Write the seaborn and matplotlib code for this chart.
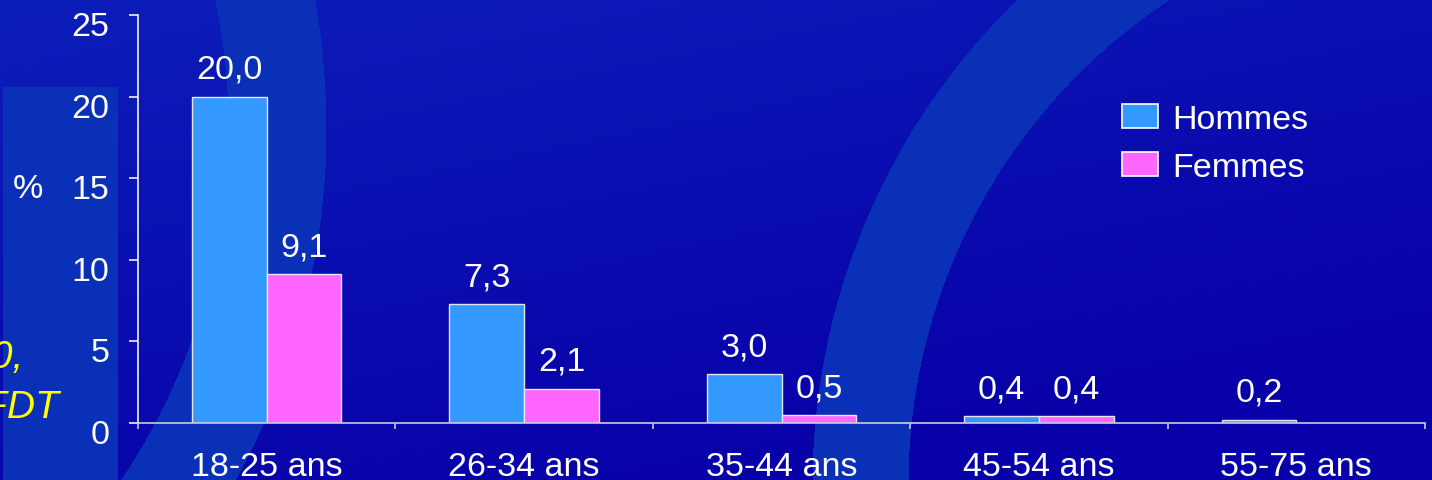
import numpy as np
import pandas as pd
import matplotlib
matplotlib.use("Agg")
import matplotlib.pyplot as plt
from matplotlib import font_manager as fm
from matplotlib.transforms import ScaledTranslation
import seaborn as sns

# Données : prévalence (%) par classe d'âge et par sexe
groupes = ["18-25 ans", "26-34 ans", "35-44 ans", "45-54 ans", "55-75 ans"]
hommes = [20.0, 7.3, 3.0, 0.4, 0.2]
femmes = [9.1, 2.1, 0.5, 0.4, np.nan]
series = ["Hommes", "Femmes"]
yticks = [0, 5, 10, 15, 20, 25]

couleurs = {"Hommes": "#3399FF", "Femmes": "#FF66FF"}

df = pd.DataFrame({
    "groupe": groupes * 2,
    "sexe": ["Hommes"] * len(groupes) + ["Femmes"] * len(groupes),
    "valeur": hommes + femmes,
})

# Police étroite si disponible
noms = {f.name for f in fm.fontManager.ttflist}
if "Liberation Sans Narrow" in noms:
    famille, taille = "Liberation Sans Narrow", 26.5
else:
    famille, taille = "Liberation Sans", 24.5
plt.rcParams["font.family"] = [famille, "DejaVu Sans"]

W, H = 1432, 481
fig = plt.figure(figsize=(W / 100, H / 100), dpi=100)

# ---- fond : dégradé bleu, deux anneaux clairs et un panneau à gauche ----
bg = fig.add_axes([0, 0, 1, 1], zorder=-1)
bg.set_axis_off()
yy, xx = np.mgrid[0:H, 0:W].astype(float)
t = np.clip(0.75 * yy / H + 0.45 * xx / W, 0, 1)
haut = np.array([12, 30, 186]) / 255
bas = np.array([8, 0, 168]) / 255
img = haut[None, None, :] * (1 - t[..., None]) + bas[None, None, :] * t[..., None]
clair = np.array([10, 48, 184]) / 255

def anneau(cx, cy, r_in, r_out):
    d = np.hypot(xx - cx, yy - cy)
    return (d >= r_in) & (d <= r_out)

masque = anneau(-401, 129, 629, 727) | anneau(1488, 485, 580, 676)
masque |= (xx >= 3) & (xx <= 117) & (yy >= 88)
img[masque] = clair
bg.imshow(img, extent=(0, W, H, 0), aspect="auto", interpolation="nearest")
bg.set_xlim(0, W)
bg.set_ylim(H, 0)

# ---- graphique ----
ax = fig.add_axes([138 / W, 57 / H, (1425 - 138) / W, 408 / H])
ax.set_facecolor("none")

sns.barplot(
    data=df, x="groupe", y="valeur", hue="sexe", order=groupes,
    hue_order=series, palette=couleurs, width=0.58, ax=ax,
    edgecolor="#e6e6f5", linewidth=1.0, saturation=1, errorbar=None,
)

ax.set_xlim(-0.5, len(groupes) - 0.5)
ax.set_ylim(0, 25)
ax.set_yticks(yticks)
ax.set_xlabel("")
ax.set_ylabel("%", rotation=0, color="white", fontsize=taille, va="center", ha="center")
ax.yaxis.set_label_coords(-0.0855, 0.574)

for s in ["top", "right"]:
    ax.spines[s].set_visible(False)
ax.spines["left"].set_color("#f2f2ff")
ax.spines["bottom"].set_color("#c8c8e8")
ax.spines["left"].set_linewidth(1.2)
ax.spines["bottom"].set_linewidth(1.2)

ax.tick_params(axis="y", direction="out", length=6.5, width=1.2, color="#f2f2ff",
               pad=14, labelsize=taille, labelcolor="white")
ax.tick_params(axis="x", which="major", length=0, pad=20, labelsize=taille, labelcolor="white")
ax.set_xticks(np.arange(-0.5, len(groupes)), minor=True)
ax.tick_params(axis="x", which="minor", direction="out", length=4.3, width=1.2, color="#c8c8e8")

# Libellés de l'axe y légèrement abaissés sous leur graduation
decalage = ScaledTranslation(0, -8 / 100, fig.dpi_scale_trans)
for tick in ax.yaxis.get_major_ticks():
    tick.label1.set_transform(tick.label1.get_transform() + decalage)

# Étiquettes de valeur au-dessus des barres
for cont in ax.containers:
    for p in cont.patches:
        h = p.get_height()
        if np.isfinite(h) and h > 0:
            ax.annotate(f"{h:.1f}".replace(".", ","),
                        (p.get_x() + p.get_width() / 2, h),
                        xytext=(0, 13.5), textcoords="offset points",
                        ha="center", va="baseline", color="white", fontsize=taille)

# Légende
sns.move_legend(
    ax, loc="upper left", bbox_to_anchor=(1122 / W, 1 - 105 / H),
    bbox_transform=fig.transFigure, title=None, frameon=False,
    fontsize=taille, labelcolor="white", handlelength=1.06, handleheight=0.68,
    handletextpad=0.42, labelspacing=0.5, borderpad=0, borderaxespad=0,
)
for hdl in ax.get_legend().legend_handles:
    hdl.set_edgecolor("white")
    hdl.set_linewidth(1.2)

# Source, en partie hors du cadre à gauche
fig.text(23 / W, 1 - 368 / H, "2000,", color="#FFFF00", fontsize=28,
         style="italic", ha="right", va="baseline", family=["Liberation Sans", "DejaVu Sans"])
fig.text(60 / W, 1 - 418 / H, "OFDT", color="#FFFF00", fontsize=28,
         style="italic", ha="right", va="baseline", family=["Liberation Sans", "DejaVu Sans"])

fig.savefig("out.png", dpi=100)
